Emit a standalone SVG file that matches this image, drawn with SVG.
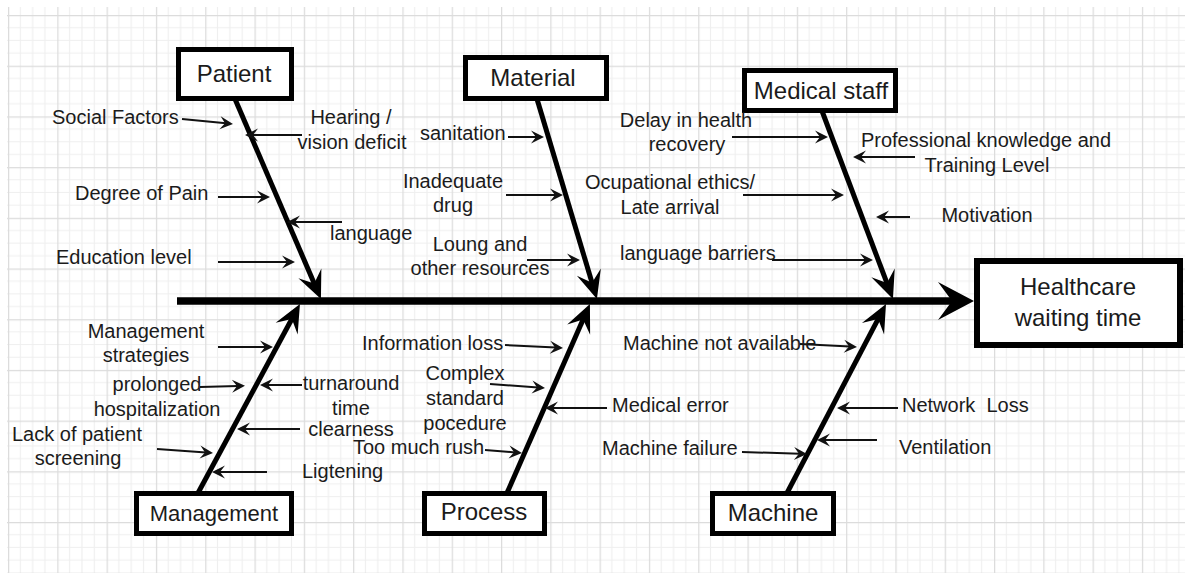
<svg xmlns="http://www.w3.org/2000/svg" width="1185" height="573" viewBox="0 0 1185 573">
  <style>
    .lbl { font-family: "Liberation Sans", Arial, sans-serif; font-size: 20px; fill: #1b1b1b; }
    .ttl { font-family: "Liberation Sans", Arial, sans-serif; font-size: 24px; fill: #1b1b1b; text-anchor: middle; }
    .mid { text-anchor: middle; }
    .box { fill: #ffffff; stroke: #000000; stroke-width: 5; }
    .head { fill: #ffffff; stroke: #000000; stroke-width: 6; }
    .spine { stroke: #000000; stroke-width: 7.5; fill: none; marker-end: url(#arrowBig); }
    .bone { stroke: #000000; stroke-width: 5; fill: none; marker-end: url(#arrowBone); }
    .cause { stroke: #111111; stroke-width: 2; fill: none; marker-end: url(#arrowSmall); }
  </style>
  <defs>
    <!-- drawing-paper grid: major cell with three minor subdivisions each way -->
    <pattern id="grid" patternUnits="userSpaceOnUse" x="8" y="15" width="49.3" height="50.7">
      <path d="M12.33,0V50.7M24.65,0V50.7M36.98,0V50.7M0,12.68H49.3M0,25.35H49.3M0,38.03H49.3" stroke="#efefef" stroke-width="1.2" fill="none"/>
      <path d="M0.6,0V50.7M0,0.6H49.3" stroke="#dcdcdc" stroke-width="1.3" fill="none"/>
    </pattern>
    <marker id="arrowBig" markerUnits="userSpaceOnUse" orient="auto" viewBox="-38 -20 40 40" markerWidth="40" markerHeight="40" refX="-18" refY="0" overflow="visible">
      <path d="M0,0 L-36,-19 L-22,0 L-36,19 Z" fill="#000000"/>
    </marker>
    <marker id="arrowBone" markerUnits="userSpaceOnUse" orient="auto" viewBox="-30 -15 32 30" markerWidth="32" markerHeight="30" refX="-14" refY="0" overflow="visible">
      <path d="M0,0 L-28,-12.5 L-17,0 L-28,12.5 Z" fill="#000000"/>
    </marker>
    <marker id="arrowSmall" markerUnits="userSpaceOnUse" orient="auto" viewBox="-15 -8 17 16" markerWidth="17" markerHeight="16" refX="-7" refY="0" overflow="visible">
      <path d="M0,0 L-13,-6.5 L-8,0 L-13,6.5 Z" fill="#111111"/>
    </marker>
  </defs>

  <rect x="0" y="0" width="1185" height="573" fill="#ffffff"/>
  <rect x="7" y="7" width="1178" height="566" fill="url(#grid)"/>

  <g id="connectors">
    <!-- spine -->
    <line class="spine" x1="177" y1="301" x2="956" y2="301"/>
    <!-- category bones -->
    <line class="bone" x1="235" y1="99" x2="315.4" y2="286.2"/>
    <line class="bone" x1="537" y1="99" x2="592.9" y2="285.6"/>
    <line class="bone" x1="822" y1="111" x2="888" y2="285.9"/>
    <line class="bone" x1="198" y1="493" x2="293.3" y2="316.3"/>
    <line class="bone" x1="507" y1="493" x2="584.3" y2="316.8"/>
    <line class="bone" x1="787" y1="493" x2="879.5" y2="316.4"/>
    <!-- Patient causes -->
    <line class="cause" x1="182" y1="119" x2="226" y2="123.3"/>
    <line class="cause" x1="302" y1="135" x2="252" y2="135"/>
    <line class="cause" x1="218" y1="197" x2="263" y2="197"/>
    <line class="cause" x1="342" y1="222" x2="294" y2="222"/>
    <line class="cause" x1="218" y1="262" x2="288" y2="262"/>
    <!-- Material causes -->
    <line class="cause" x1="508" y1="137" x2="537" y2="137"/>
    <line class="cause" x1="506" y1="195" x2="556" y2="195"/>
    <line class="cause" x1="527" y1="260" x2="573" y2="260"/>
    <!-- Medical staff causes -->
    <line class="cause" x1="732" y1="137" x2="821" y2="137"/>
    <line class="cause" x1="743" y1="195" x2="837" y2="195"/>
    <line class="cause" x1="772" y1="260" x2="866" y2="260"/>
    <line class="cause" x1="915" y1="157" x2="860" y2="157"/>
    <line class="cause" x1="910" y1="217" x2="883" y2="217"/>
    <!-- Management causes -->
    <line class="cause" x1="218" y1="347" x2="266" y2="347"/>
    <line class="cause" x1="200" y1="387" x2="238" y2="386"/>
    <line class="cause" x1="302" y1="385" x2="267" y2="385"/>
    <line class="cause" x1="300" y1="429" x2="244" y2="429"/>
    <line class="cause" x1="157" y1="449" x2="206" y2="452.5"/>
    <line class="cause" x1="267" y1="472" x2="219" y2="472"/>
    <!-- Process causes -->
    <line class="cause" x1="505" y1="345" x2="556" y2="347.6"/>
    <line class="cause" x1="490" y1="384" x2="538" y2="387.5"/>
    <line class="cause" x1="485" y1="450" x2="515" y2="452.4"/>
    <line class="cause" x1="607" y1="408" x2="552" y2="408"/>
    <!-- Machine causes -->
    <line class="cause" x1="800" y1="344" x2="850" y2="346.6"/>
    <line class="cause" x1="742" y1="452" x2="800" y2="453.8"/>
    <line class="cause" x1="898" y1="408" x2="844" y2="408"/>
    <line class="cause" x1="877" y1="440" x2="824" y2="440"/>
  </g>

  <g id="node-effect">
    <rect class="head" x="977" y="261" width="203" height="84"/>
    <text class="ttl" x="1078" y="295">Healthcare</text>
    <text class="ttl" x="1078" y="326">waiting time</text>
  </g>

  <g id="node-patient">
    <rect class="box" x="178.5" y="49.5" width="113" height="49"/>
    <text class="ttl" x="234" y="82">Patient</text>
  </g>
  <g id="node-material">
    <rect class="box" x="465.5" y="57.5" width="141" height="41"/>
    <text class="ttl" x="533" y="86">Material</text>
  </g>
  <g id="node-medical-staff">
    <rect class="box" x="744.5" y="70.5" width="151" height="40"/>
    <text class="ttl" x="821" y="99">Medical staff</text>
  </g>
  <g id="node-management">
    <rect class="box" x="136.5" y="493.5" width="155" height="40"/>
    <text class="ttl" x="214" y="521" style="font-size:22px">Management</text>
  </g>
  <g id="node-process">
    <rect class="box" x="424.5" y="493.5" width="120" height="40"/>
    <text class="ttl" x="484" y="520">Process</text>
  </g>
  <g id="node-machine">
    <rect class="box" x="712.5" y="493.5" width="121" height="40"/>
    <text class="ttl" x="773" y="521">Machine</text>
  </g>

  <g id="labels-patient">
    <text class="lbl" x="52" y="124">Social Factors</text>
    <text class="lbl mid" x="351" y="124">Hearing /</text>
    <text class="lbl mid" x="352" y="149">vision deficit</text>
    <text class="lbl" x="75" y="200">Degree of Pain</text>
    <text class="lbl" x="330" y="240">language</text>
    <text class="lbl" x="56" y="264">Education level</text>
  </g>
  <g id="labels-material">
    <text class="lbl" x="420" y="140">sanitation</text>
    <text class="lbl mid" x="453" y="188">Inadequate</text>
    <text class="lbl mid" x="453" y="212">drug</text>
    <text class="lbl mid" x="480" y="251">Loung and</text>
    <text class="lbl mid" x="480" y="275">other resources</text>
  </g>
  <g id="labels-medical-staff">
    <text class="lbl mid" x="686" y="127">Delay in health</text>
    <text class="lbl mid" x="687" y="151">recovery</text>
    <text class="lbl mid" x="670" y="189">Ocupational ethics/</text>
    <text class="lbl mid" x="670" y="214">Late arrival</text>
    <text class="lbl" x="620" y="260">language barriers</text>
    <text class="lbl mid" x="986" y="147">Professional knowledge and</text>
    <text class="lbl mid" x="987" y="172">Training Level</text>
    <text class="lbl mid" x="987" y="222">Motivation</text>
  </g>
  <g id="labels-management">
    <text class="lbl mid" x="146" y="338">Management</text>
    <text class="lbl mid" x="146" y="362">strategies</text>
    <text class="lbl mid" x="157" y="391">prolonged</text>
    <text class="lbl mid" x="157" y="416">hospitalization</text>
    <text class="lbl mid" x="351" y="390">turnaround</text>
    <text class="lbl mid" x="351" y="415">time</text>
    <text class="lbl mid" x="351" y="436">clearness</text>
    <text class="lbl mid" x="77" y="441">Lack of patient</text>
    <text class="lbl mid" x="78" y="465">screening</text>
    <text class="lbl" x="302" y="478">Ligtening</text>
  </g>
  <g id="labels-process">
    <text class="lbl" x="362" y="350">Information loss</text>
    <text class="lbl mid" x="465" y="380">Complex</text>
    <text class="lbl mid" x="465" y="405">standard</text>
    <text class="lbl mid" x="465" y="430">pocedure</text>
    <text class="lbl" x="353" y="454">Too much rush</text>
    <text class="lbl" x="612" y="412">Medical error</text>
  </g>
  <g id="labels-machine">
    <text class="lbl" x="623" y="350">Machine not available</text>
    <text class="lbl" x="602" y="455">Machine failure</text>
    <text class="lbl" x="902" y="412" xml:space="preserve">Network  Loss</text>
    <text class="lbl" x="899" y="454">Ventilation</text>
  </g>
</svg>
